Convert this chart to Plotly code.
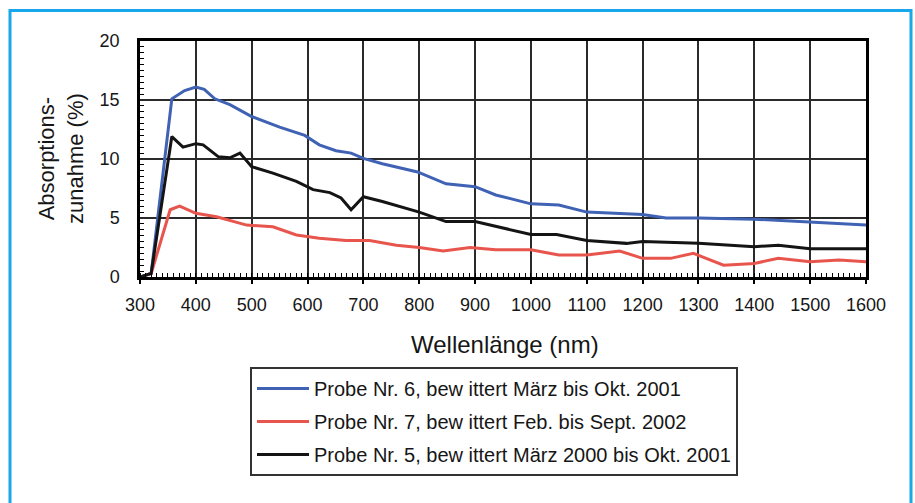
import plotly.graph_objects as go

# ---- data ----
wl_p6 = [300, 320, 357, 380, 400, 415, 434, 461, 500, 550, 595, 621, 651, 678, 700, 734, 797, 848, 900, 937,
         1000, 1050, 1100, 1200, 1242, 1300, 1400, 1481, 1536, 1600]
abs_p6 = [0, 0.3, 15.1, 15.8, 16.1, 15.9, 15.1, 14.6, 13.6, 12.7, 12.0, 11.2, 10.7, 10.5, 10.05, 9.6, 8.9, 7.9, 7.65, 6.95,
          6.2, 6.1, 5.5, 5.3, 5.0, 5.0, 4.9, 4.7, 4.55, 4.4]

wl_p7 = [300, 320, 354, 371, 400, 437, 491, 538, 580, 621, 669, 711, 759, 800, 843, 891, 937, 1000, 1050, 1100,
         1159, 1200, 1250, 1291, 1345, 1400, 1443, 1500, 1552, 1600]
abs_p7 = [0, 0.3, 5.7, 6.0, 5.4, 5.1, 4.4, 4.26, 3.56, 3.28, 3.1, 3.1, 2.7, 2.5, 2.2, 2.5, 2.3, 2.3, 1.86, 1.86,
          2.2, 1.58, 1.58, 2.0, 1.0, 1.15, 1.58, 1.3, 1.44, 1.3]

wl_p5 = [300, 320, 357, 377, 400, 413, 440, 461, 479, 500, 538, 580, 610, 640, 660, 678, 700, 734, 800, 848, 900,
         1000, 1046, 1100, 1171, 1200, 1300, 1400, 1443, 1500, 1600]
abs_p5 = [0, 0.3, 11.9, 11.0, 11.3, 11.2, 10.2, 10.1, 10.5, 9.35, 8.8, 8.1, 7.4, 7.15, 6.7, 5.7, 6.8, 6.4, 5.5, 4.7, 4.7,
          3.6, 3.6, 3.1, 2.85, 3.0, 2.85, 2.57, 2.7, 2.4, 2.4]

series_names = [
    "Probe Nr. 6, bew ittert März bis Okt. 2001",
    "Probe Nr. 7, bew ittert Feb. bis Sept. 2002",
    "Probe Nr. 5, bew ittert März 2000 bis Okt. 2001",
]
series_colors = ["#3f62b4", "#e8554d", "#141414"]

x_title = "Wellenlänge (nm)"
y_title = "Absorptions-<br>zunahme (%)"

FONT = "Liberation Sans, Arial, sans-serif"
TXT = "#161616"

fig = go.Figure()
for i, (xs, ys) in enumerate([(wl_p6, abs_p6), (wl_p7, abs_p7), (wl_p5, abs_p5)]):
    fig.add_trace(go.Scatter(
        x=xs, y=ys, mode="lines", name=series_names[i], legendgroup=f"g{i}",
        line=dict(color=series_colors[i], width=3),
    ))

W, H = 915, 503
L, R, T, B = 140, 49, 41, 226
pw = W - L - R
ph = H - T - B

def px_x(px):
    return (px - L) / pw

def px_y(py):
    return (H - B - py) / ph

fig.update_layout(
    width=W, height=H,
    margin=dict(l=L, r=R, t=T, b=B, autoexpand=False),
    paper_bgcolor="white", plot_bgcolor="white",
    font=dict(family=FONT, size=18, color=TXT),
    showlegend=True,
    legend=dict(
        x=px_x(250), y=px_y(367), xanchor="left", yanchor="top",
        bgcolor="white", bordercolor="#333333", borderwidth=2,
        font=dict(family=FONT, size=20, color=TXT),
        tracegroupgap=4, itemwidth=52,
    ),
    xaxis=dict(
        range=[300, 1600], tick0=300, dtick=100,
        showgrid=True, gridcolor="#2a2a2a", gridwidth=1.5,
        showline=True, linecolor="black", linewidth=2.5, mirror=True,
        ticks="outside", ticklen=4, tickcolor="black", tickwidth=1.5,
        ticklabelstandoff=6,
        tickfont=dict(size=18),
        minor=dict(dtick=10, ticks="inside", ticklen=4, tickcolor="black", tickwidth=1, showgrid=False),
        zeroline=False,
    ),
    yaxis=dict(
        range=[0, 20], tick0=0, dtick=5,
        showgrid=True, gridcolor="#2a2a2a", gridwidth=1.5,
        showline=True, linecolor="black", linewidth=2.5, mirror=True,
        ticks="", ticklabelstandoff=14,
        tickfont=dict(size=18),
        minor=dict(dtick=0.5, ticks="inside", ticklen=4, tickcolor="black", tickwidth=1, showgrid=False),
        zeroline=False,
    ),
    annotations=[
        dict(text=x_title, xref="paper", yref="paper", x=px_x(505), y=px_y(344),
             xanchor="center", yanchor="middle", showarrow=False,
             font=dict(family=FONT, size=24, color=TXT)),
        dict(text=y_title, xref="paper", yref="paper", x=px_x(61), y=0.5,
             xanchor="center", yanchor="middle", showarrow=False, textangle=-90,
             font=dict(family=FONT, size=22, color=TXT)),
    ],
    shapes=[
        dict(type="rect", xref="paper", yref="paper",
             x0=px_x(10), x1=px_x(911), y0=px_y(10.5), y1=px_y(530),
             line=dict(color="#18a7ea", width=3), fillcolor="rgba(0,0,0,0)", layer="above"),
    ],
)

fig.write_html("out.html", config={"displayModeBar": False},
               post_script="document.body.style.margin='0';document.body.style.overflow='hidden';")
